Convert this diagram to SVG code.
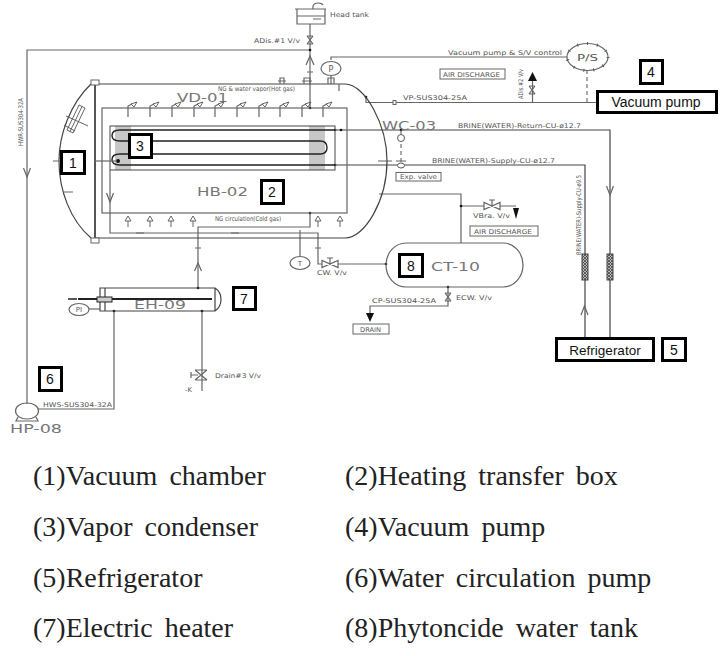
<svg xmlns="http://www.w3.org/2000/svg" width="722" height="656" viewBox="0 0 722 656">
<style>
.l{fill:none;stroke:#666;stroke-width:1.200}
.d{fill:none;stroke:#444;stroke-width:1.200}
.k{fill:none;stroke:#222;stroke-width:1.400}
.h{fill:none;stroke:#555;stroke-width:.9}
.hatch{fill:none;stroke:#444;stroke-width:.6}
.dash{fill:none;stroke:#555;stroke-width:1;stroke-dasharray:4 3}
.box{fill:#fff;stroke:#666;stroke-width:1}
.t{font-family:"DejaVu Sans",sans-serif;font-size:6.500px;fill:#555}
.big{font-family:"DejaVu Sans",sans-serif;font-size:12px;fill:#777}
.tag{fill:#fff;stroke:#000;stroke-width:3}
.n{font-family:"Liberation Sans",Arial,sans-serif;font-size:14px;fill:#111;text-anchor:middle}
.cap{font-family:"Liberation Serif","Times New Roman",serif;font-size:28px;fill:#222;word-spacing:5px}
.fillk{fill:#111;stroke:none}
</style>
<defs>
<g id="fin"><path class="l" d="M0 9V-2L4-4"/><path class="h" d="M3-4L9-6 6-1Z"/></g>
<g id="upArrow"><path class="h" d="M0 11V5M-3 5L0 0 3 5H-3Z"/></g>
<path id="vHead" class="l" d="M-3.500 -9L0 0 3.500 -9"/>
<g id="vvalve"><path class="l" d="M-3-4L3 4M3-4L-3 4M-3-4H3M-3 4H3"/></g>
<g id="hvalve"><path class="l" d="M-8-3.500V3.500L8-3.500V3.500ZM0 0V-6M-3-6H3"/></g>
<circle id="dot" r="1.300" fill="#111"/>
<pattern id="mesh" width="3" height="3" patternUnits="userSpaceOnUse"><rect width="3" height="3" fill="#bbb"/><path d="M0 0L3 3M3 0L0 3" stroke="#333" stroke-width=".7"/></pattern>
</defs>

<g id="connectors">
<path class="l" d="M310 24V108M310 50H27V404"/>
<use href="#vHead" x="27" y="177"/>
<path class="l" d="M306 65L310 56 314 65M307 72H313"/>
<use href="#dot" x="310" y="50"/><use href="#dot" x="310" y="108"/>
<path class="l" d="M331 60V57H567M331 75V84"/>
<path class="l" d="M366 98V102.500H597"/>
<use href="#dot" x="366" y="97"/>
<rect class="box" x="393" y="100.500" width="3" height="4"/>
<path class="dash" d="M587 70V102"/>
<path class="l" d="M532.500 102V80"/>
<path class="fillk" d="M532.500 72L537 81H528Z"/>
<path class="d" d="M335 130H610V338M335 165H585V338"/>
<use href="#dot" x="335" y="130"/><use href="#dot" x="341" y="130"/><use href="#dot" x="335" y="165"/><use href="#dot" x="401" y="130"/>
<use href="#vHead" x="610" y="195"/>
<path class="l" d="M581 315L584.500 306 588 315"/>
<path class="dash" d="M401 130V165"/>
<circle cx="401" cy="138" r="3.500" fill="#fff" stroke="#555"/>
<ellipse cx="401" cy="165.500" rx="3.500" ry="2.500" fill="#fff" stroke="#555"/>
<path class="l" d="M378 161H392M396 161H406"/>
<path class="l" d="M379 194H461V243M461 206H484M500 206H516"/>
<use href="#dot" x="461" y="206"/>
<use href="#hvalve" x="492" y="206"/>
<path class="fillk" d="M513 208H519L516 219Z"/>
<path class="l" d="M110 170V233H318V264H322M338 264H386"/>
<use href="#vHead" x="110" y="202"/>
<path class="l" d="M136 233H144M231 233H239M315 248H321M195 248H201"/>
<path class="l" d="M198 288V227H310V213"/>
<use href="#dot" x="310" y="213"/>
<path class="l" d="M194.500 271L198 263 201.500 271"/>
<use href="#dot" x="198" y="288"/>
<path class="l" d="M300 230V256"/>
<use href="#hvalve" x="330" y="264"/>
<use href="#dot" x="386" y="264"/>
<path class="l" d="M448 287V306H370V314"/>
<use href="#dot" x="448" y="287"/>
<use href="#vvalve" x="448" y="297"/>
<path class="fillk" d="M366 313H374L370 322Z"/>
<path class="l" d="M114 311V409H38"/>
<use href="#dot" x="114" y="311"/>
<path class="l" d="M202 311V391"/>
<use href="#dot" x="202" y="311"/>
<path class="l" d="M195 370L207 380M207 370L195 380M195 370H207M195 380H207M191 375H198M191 372V378"/>
<use href="#vvalve" x="310" y="40"/>
</g>

<g id="head-tank">
<path class="l" d="M295 9H326M297 9V24H325V9M297 16H325"/>
<path class="l" d="M313 9V6Q314 3 318 3 322 3 323 5M313 19H321"/>
<text class="t" x="330" y="17" textLength="39" lengthAdjust="spacingAndGlyphs">Head tank</text>
</g>
<text class="t" x="254" y="43" textLength="46" lengthAdjust="spacingAndGlyphs">ADis.#1 V/v</text>

<g id="pressure-gauge">
<ellipse class="l" cx="331" cy="68.500" rx="10" ry="7"/>
<text class="t" x="331" y="71.500" text-anchor="middle" style="font-size:8px">P</text>
</g>

<g id="vacuum-chamber">
<path class="d" d="M95 84H345C365 84 387 125 387 161C387 200 365 238 345 238H95"/>
<path class="d" d="M91 84C70 104 59 135 59 161C59 190 70 220 91 238"/>
<path d="M95 82V240" fill="none" stroke="#555" stroke-width="2"/>
<rect class="box" x="91" y="80" width="8" height="5"/>
<rect class="box" x="91" y="238" width="8" height="5"/>
<path class="h" d="M66 116L88 126M64 125L75 131"/>
<path class="h" d="M79 105L85 108 73 133 67 130ZM82 106.500L70 131.500"/>
<path class="l" d="M53 161H60M63 192H73"/>
<path class="l" d="M280 84V78H284V84M278 81H286M304 84V78H310V84M302 81H312M328 84V78H334V84M339 84V91"/>
<text class="t" x="218" y="91" textLength="77" lengthAdjust="spacingAndGlyphs">NG &amp; water vapor(Hot gas)</text>
<text class="big" x="177" y="102" textLength="51" lengthAdjust="spacingAndGlyphs">VD-01</text>
</g>

<g id="heating-transfer-box">
<rect class="l" x="102" y="108" width="245" height="105"/>
<use href="#fin" x="128" y="108"/>
<use href="#fin" x="150" y="108"/>
<use href="#fin" x="172" y="108"/>
<use href="#fin" x="194" y="108"/>
<use href="#fin" x="215" y="108"/>
<use href="#fin" x="237" y="108"/>
<use href="#fin" x="259" y="108"/>
<use href="#fin" x="280" y="108"/>
<use href="#fin" x="302" y="108"/>
<use href="#fin" x="323" y="108"/>
<use href="#upArrow" x="128" y="216"/>
<use href="#upArrow" x="150" y="216"/>
<use href="#upArrow" x="171" y="216"/>
<use href="#upArrow" x="193" y="216"/>
<use href="#upArrow" x="318" y="216"/>
<use href="#upArrow" x="340" y="216"/>
<text class="t" x="215" y="221" textLength="66" lengthAdjust="spacingAndGlyphs">NG circulation(Cold gas)</text>
<text class="big" x="197" y="196" textLength="51" lengthAdjust="spacingAndGlyphs">HB-02</text>
</g>

<g id="vapor-condenser">
<rect class="l" x="110" y="126" width="225" height="44"/>
<path class="hatch" d="M116 126V170M118 126V170M120 126V170M122 126V170M124 126V170M126 126V170M128 126V170M130 126V170M310 126V170M312 126V170M314 126V170M316 126V170M318 126V170M320 126V170M322 126V170M324 126V170"/>
<path class="k" d="M335 130H120Q112 130 112 135.500 112 141 120 141H320Q327 141 327 147.500 327 154 320 154H120Q112 154 112 159.500 112 165 120 165H335"/>
<circle cx="118" cy="161" r="2" fill="#111"/>
<path class="l" d="M94 161H117"/>
<text class="big" x="382" y="130" textLength="54" lengthAdjust="spacingAndGlyphs">WC-03</text>
</g>

<g id="exp-valve">
<rect class="box" x="396" y="172.500" width="45" height="8.500"/>
<text class="t" x="400" y="179" textLength="37" lengthAdjust="spacingAndGlyphs">Exp. valve</text>
</g>

<g id="pressure-switch">
<ellipse class="l" cx="587.500" cy="57" rx="20.500" ry="13.500"/>
<ellipse cx="587.500" cy="57" rx="20.500" ry="13.500" fill="none" stroke="#555" stroke-width="3" stroke-dasharray="1 9"/>
<text class="t" x="577" y="60.500" textLength="21" lengthAdjust="spacingAndGlyphs" style="font-size:9px">P/S</text>
</g>

<g id="labels">
<text class="t" x="448" y="55" textLength="114" lengthAdjust="spacingAndGlyphs">Vacuum pump &amp; S/V control</text>
<rect class="box" x="440" y="69" width="65" height="10"/>
<text class="t" x="443" y="76.500" textLength="57" lengthAdjust="spacingAndGlyphs">AIR DISCHARGE</text>
<text class="t" transform="translate(523 99) rotate(-90)" textLength="30" lengthAdjust="spacingAndGlyphs">ADis.#2 V/v</text>
<use href="#vvalve" transform="translate(532 90)"/>
<text class="t" x="403" y="100" textLength="64" lengthAdjust="spacingAndGlyphs">VP-SUS304-25A</text>
<text class="t" x="458" y="128" textLength="123" lengthAdjust="spacingAndGlyphs">BRINE(WATER)-Return-CU-ø12.7</text>
<text class="t" x="432" y="163" textLength="123" lengthAdjust="spacingAndGlyphs">BRINE(WATER)-Supply-CU-ø12.7</text>
<text class="t" x="473" y="218" textLength="37" lengthAdjust="spacingAndGlyphs">VBra. V/v</text>
<rect class="box" x="470" y="226" width="68" height="10"/>
<text class="t" x="474" y="233.500" textLength="58" lengthAdjust="spacingAndGlyphs">AIR DISCHARGE</text>
<text class="t" transform="translate(581 255) rotate(-90)" textLength="80" lengthAdjust="spacingAndGlyphs">BRINE(WATER)-Supply-CU-ø9.5</text>
<text class="t" transform="translate(23 146) rotate(-90)" textLength="48" lengthAdjust="spacingAndGlyphs">HWR-SUS304-32A</text>
<text class="t" x="317" y="275" textLength="30" lengthAdjust="spacingAndGlyphs">CW. V/v</text>
<text class="t" x="372" y="303" textLength="64" lengthAdjust="spacingAndGlyphs">CP-SUS304-25A</text>
<text class="t" x="456" y="300" textLength="36" lengthAdjust="spacingAndGlyphs">ECW. V/v</text>
<rect class="box" x="353" y="324" width="36" height="10"/>
<text class="t" x="360" y="331.500" textLength="21" lengthAdjust="spacingAndGlyphs">DRAIN</text>
<text class="t" x="215" y="378" textLength="46" lengthAdjust="spacingAndGlyphs">Drain#3 V/v</text>
<text class="t" x="185" y="392" textLength="7" lengthAdjust="spacingAndGlyphs">-K</text>
<text class="t" x="43" y="407" textLength="69" lengthAdjust="spacingAndGlyphs">HWS-SUS304-32A</text>
</g>

<g id="heat-exchanger-pads">
<rect x="582" y="254" width="6" height="26" fill="url(#mesh)" stroke="#444"/>
<rect x="607" y="254" width="6" height="26" fill="url(#mesh)" stroke="#444"/>
</g>

<g id="temp-gauge">
<ellipse class="l" cx="300" cy="263" rx="10" ry="6.500"/>
<text class="t" x="300" y="266" text-anchor="middle" style="font-size:7px">T</text>
</g>

<g id="phytoncide-tank">
<rect class="l" x="386" y="243" width="137" height="44" rx="20" ry="22"/>
<text class="big" x="431" y="271" textLength="49" lengthAdjust="spacingAndGlyphs">CT-10</text>
</g>

<g id="electric-heater">
<path class="d" d="M100 288H215Q221 292 221 299.500 221 307 215 311H100ZM105 288V311M215 288V311"/>
<path d="M68 299H77" stroke="#222" stroke-width="1.500"/>
<path d="M78 299H212" stroke="#222" stroke-width="2"/>
<rect x="97" y="297" width="15" height="5" fill="#ccc" stroke="#222"/>
<ellipse class="l" cx="79" cy="309.500" rx="10" ry="6"/>
<text class="t" x="79" y="312" text-anchor="middle" style="font-size:7px">PI</text>
<path class="l" d="M89 309H100"/>
<text class="big" x="134" y="309" textLength="52" lengthAdjust="spacingAndGlyphs">EH-09</text>
</g>

<g id="water-pump">
<ellipse class="l" cx="27" cy="411" rx="11.500" ry="8"/>
<path class="l" d="M18 417L16 421H38L36 417"/>
<text class="big" x="10" y="433" textLength="52" lengthAdjust="spacingAndGlyphs">HP-08</text>
</g>

<g id="tag-1"><rect class="tag" x="61.500" y="151.500" width="23" height="22"/><text class="n" x="73" y="168">1</text></g>
<g id="tag-2"><rect class="tag" x="261.500" y="180.500" width="22" height="23"/><text class="n" x="272" y="197">2</text></g>
<g id="tag-3"><rect class="tag" x="129.500" y="134.500" width="22" height="23"/><text class="n" x="140" y="151">3</text></g>
<g id="tag-4"><rect class="tag" x="640.500" y="60.500" width="22" height="23"/><text class="n" x="651" y="77">4</text></g>
<g id="tag-5"><rect class="tag" x="662.500" y="338.500" width="23" height="22"/><text class="n" x="674" y="355">5</text></g>
<g id="tag-6"><rect class="tag" x="39.500" y="367.500" width="22" height="23"/><text class="n" x="50" y="384">6</text></g>
<g id="tag-7"><rect class="tag" x="233.500" y="287.500" width="22" height="22"/><text class="n" x="244" y="304">7</text></g>
<g id="tag-8"><rect class="tag" x="399.500" y="254.500" width="23" height="22"/><text class="n" x="411" y="271">8</text></g>
<g id="vacuum-pump"><rect class="tag" x="597.500" y="91.500" width="119" height="21"/><text class="n" x="656" y="107">Vacuum pump</text></g>
<g id="refrigerator"><rect class="tag" x="556.500" y="338.500" width="97" height="22"/><text class="n" x="605" y="355" style="font-size:13.500px">Refrigerator</text></g>

<g id="caption">
<text class="cap" x="33" y="485">(1)Vacuum chamber</text>
<text class="cap" x="345" y="485">(2)Heating transfer box</text>
<text class="cap" x="33" y="536">(3)Vapor condenser</text>
<text class="cap" x="345" y="536">(4)Vacuum pump</text>
<text class="cap" x="33" y="587">(5)Refrigerator</text>
<text class="cap" x="345" y="587">(6)Water circulation pump</text>
<text class="cap" x="33" y="637">(7)Electric heater</text>
<text class="cap" x="345" y="637">(8)Phytoncide water tank</text>
</g>
</svg>
